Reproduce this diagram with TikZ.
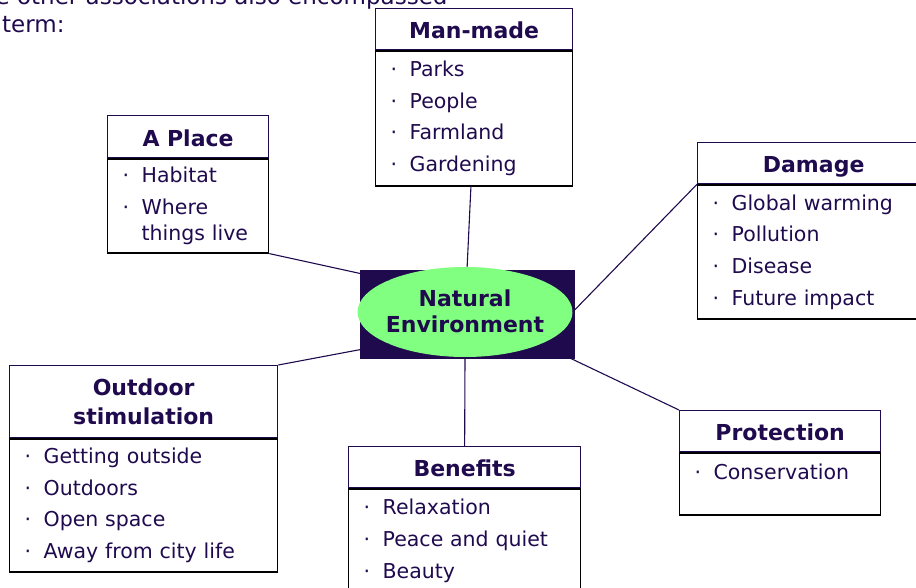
\documentclass[tikz,border=0pt]{standalone}
\usepackage{fontspec}
\setmainfont{DejaVu Sans}
\usetikzlibrary{positioning, shapes.geometric}
\definecolor{inkblue}{RGB}{32,10,78}
\definecolor{leafgreen}{RGB}{128,255,128}
\newcommand{\bul}{\makebox[20pt][l]{\hspace{1pt}·}}

\begin{document}
\begin{tikzpicture}[x=1pt,y=-1pt,draw=inkblue,text=inkblue]
    \tikzstyle{heading}=[rectangle,draw=inkblue,line width=1.3pt,anchor=north west,inner sep=0pt,align=center,font=\fontsize{22}{29}\selectfont\bfseries]
    \tikzstyle{short heading}=[heading,text height=19pt,text depth=0pt]
    \tikzstyle{items}=[rectangle,draw=black,line width=1.3pt,anchor=north west,inner xsep=14pt,inner ysep=0pt,align=left,font=\fontsize{20.5}{31.7}\selectfont]
    \tikzstyle{intro}=[anchor=base west,inner sep=0pt,font=\fontsize{23}{28}\selectfont]
    \tikzstyle{link}=[line width=1.1pt]
    \useasboundingbox (0,0) rectangle (916,588);

    \node[intro] (intro-a) at (-4.5,5) {e other associations also encompassed};
    \node[intro] (intro-b) at (2,33) {term:};

    % centre
    \node[rectangle,fill=inkblue,minimum width=215pt,minimum height=89pt,inner sep=0pt] (env-box) at (467.5,314.5) {};
    \node[ellipse,fill=leafgreen,minimum width=215pt,minimum height=90pt,inner sep=0pt] (env) at (465,312) {};
    \node[align=center,font=\fontsize{22}{26}\selectfont\bfseries] (env-label) at (465,311) {Natural\\Environment};

    \node[short heading,text width=197pt,minimum height=41pt] (mm-head) at (375,8) {Man-made};
    \node[items,text width=169pt,minimum height=135pt] (mm-items) at (mm-head.south west) {\bul Parks\\ \bul People\\ \bul Farmland\\ \bul Gardening};

    \node[short heading,text width=161pt,minimum height=42pt] (ap-head) at (107,115) {A Place};
    \node[items,text width=133pt,minimum height=94pt] (ap-items) at (ap-head.south west) {\bul Habitat\\ \bul Where\\[-5.7pt] \hspace*{20pt}things live};

    \node[short heading,text width=232pt,minimum height=41pt] (dm-head) at (697,142) {Damage};
    \node[items,text width=204pt,minimum height=134pt] (dm-items) at (dm-head.south west) {\bul Global warming\\ \bul Pollution\\ \bul Disease\\ \bul Future impact};

    \node[heading,text width=268pt,minimum height=72pt] (od-head) at (9,365) {Outdoor\\stimulation};
    \node[items,text width=240pt,minimum height=133pt] (od-items) at (od-head.south west) {\bul Getting outside\\ \bul Outdoors\\ \bul Open space\\ \bul Away from city life};

    \node[short heading,text width=232pt,minimum height=41pt] (bn-head) at (348,446) {Benefits};
    \node[items,text width=204pt,minimum height=104pt] (bn-items) at (bn-head.south west) {\bul Relaxation\\ \bul Peace and quiet\\ \bul Beauty};

    \node[short heading,text width=201pt,minimum height=41pt] (pr-head) at (679,410) {Protection};
    \node[items,text width=173pt,minimum height=62pt,text depth=25pt] (pr-items) at (pr-head.south west) {\bul Conservation};

    \draw[link] (mm-items) -- (env);
    \draw[link] (ap-items.south east) -- (env.157);
    \draw[link] (dm-items.north west) -- (env.east);
    \draw[link] (od-head.north east) -- (env.203);
    \draw[link] (env.south) -- (bn-head.north);
    \draw[link] (env.337) -- (pr-head.north west);
\end{tikzpicture}
\end{document}
